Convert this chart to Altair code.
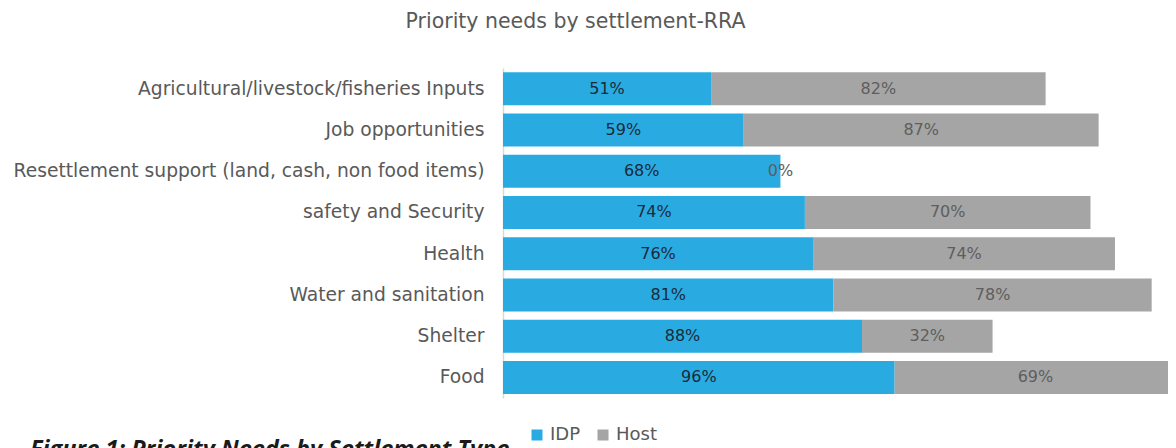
import altair as alt
import pandas as pd

needs = [
    "Agricultural/livestock/fisheries Inputs",
    "Job opportunities",
    "Resettlement support (land, cash, non food items)",
    "safety and Security ",
    "Health",
    "Water and sanitation",
    "Shelter",
    "Food",
]
idp = [51, 59, 68, 74, 76, 81, 88, 96]
host = [82, 87, 0, 70, 74, 78, 32, 69]
series = ["IDP", "Host"]
colors = ["#29ABE2", "#A5A5A5"]
label_colors = ["#1B2A38", "#5E5E5E"]
title_text = "Priority needs by settlement-RRA"
caption_text = "Figure 1: Priority Needs by Settlement Type"

rows = []
for n, a, b in zip(needs, idp, host):
    rows.append({"need": n, "series": "IDP", "order": 0, "value": a})
    rows.append({"need": n, "series": "Host", "order": 1, "value": b})
df = pd.DataFrame(rows)

FONT = "DejaVu Sans"

base = alt.Chart(df).transform_stack(
    stack="value", groupby=["need"], as_=["v0", "v1"],
    sort=[alt.SortField("order", order="ascending")]
).transform_calculate(
    mid="(datum.v0 + datum.v1) / 2",
    lab="datum.value + '%'"
)

y_enc = alt.Y("need:N", sort=needs, title=None,
              scale=alt.Scale(paddingInner=0.2, paddingOuter=0.1),
              axis=alt.Axis(ticks=False, labelFontSize=18.7, labelFont=FONT,
                            labelColor="#595959", labelPadding=19, labelLimit=600,
                            domainColor="#D9D9D9", domainWidth=1.5))

bars = base.mark_bar(clip=True).encode(
    x=alt.X("v0:Q", scale=alt.Scale(domain=[0, 163], nice=False, zero=True), axis=None),
    x2="v1:Q",
    y=y_enc,
    color=alt.Color("series:N", sort=series,
                    scale=alt.Scale(domain=series, range=colors),
                    legend=alt.Legend(title=None, orient="none", legendX=25, legendY=358,
                                      direction="horizontal", symbolType="square",
                                      symbolSize=121, symbolStrokeWidth=0,
                                      labelFont=FONT, labelFontSize=18,
                                      labelColor="#595959", columnPadding=13,
                                      labelOffset=4)),
)

labels = base.mark_text(font=FONT, fontSize=16, baseline="middle", align="center").encode(
    x=alt.X("mid:Q", scale=alt.Scale(domain=[0, 163], nice=False, zero=True), axis=None),
    y=alt.Y("need:N", sort=needs),
    text="lab:N",
    color=alt.Color("series:N", scale=alt.Scale(domain=series, range=label_colors), legend=None),
)

caption = alt.Chart(pd.DataFrame({"t": [caption_text]})).mark_text(
    font="Open Sans", fontSize=23.5, fontWeight="bold", fontStyle="italic",
    align="left", baseline="alphabetic", color="#1A1A1A"
).encode(text="t:N", x=alt.value(-473), y=alt.value(389))

chart = alt.layer(bars, labels, caption).resolve_scale(color="independent").properties(
    width=665, height=330,
    padding={"left": 495, "top": 60, "right": 0, "bottom": 50},
    autosize=alt.AutoSizeParams(type="none"),
    title=alt.TitleParams(title_text, font=FONT, fontSize=20.5, fontWeight="normal",
                          color="#595959", anchor="middle", dx=-260, offset=36),
).configure_view(stroke=None)

chart.save("out.html", embed_options={"renderer": "svg", "actions": False})
